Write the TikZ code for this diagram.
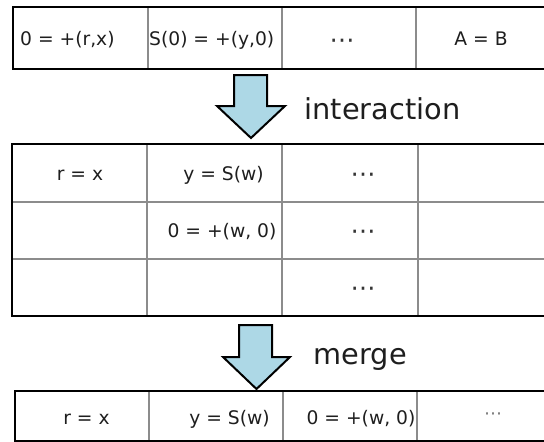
\documentclass[tikz,border=0pt]{standalone}
\usepackage{fontspec}
\setmainfont{DejaVu Sans}
\definecolor{gridgray}{RGB}{140,140,140}
\definecolor{txt}{RGB}{30,30,30}
\definecolor{arrowblue}{RGB}{173,216,230}
\begin{document}
\begin{tikzpicture}[x=1pt,y=-1pt,
  cell/.style={font=\fontsize{18.7}{22}\selectfont, inner sep=0pt, anchor=base, text=txt},
  dots/.style={font=\fontsize{25}{28}\selectfont, inner sep=0pt, anchor=base, text=txt!90},
  smalldots/.style={font=\fontsize{18}{20}\selectfont, inner sep=0pt, anchor=base, text=txt!60},
  lbl/.style={font=\fontsize{28.8}{34}\selectfont, inner sep=0pt, anchor=base west, text=txt},
  gridline/.style={draw=gridgray, line width=2pt},
  border/.style={draw=black, line width=2.2pt},
  bigarrow/.style={draw=black, line width=2pt, fill=arrowblue, line join=miter}]
\useasboundingbox (0,0) rectangle (544,442);
\clip (0,0) rectangle (544,442);

% ---------- top table ----------
\foreach \x in {147.7,282,416} \draw[gridline] (\x,7.3) -- (\x,69);
\draw[border] (560,7.3) -- (12.7,7.3) -- (12.7,69) -- (560,69);
\node[cell,anchor=base west] (t1) at (20,45) {0 = +(r,x)};
\node[cell,anchor=base west] (t2) at (149,45) {S(0) = +(y,0)};
\node[dots] (t3) at (342,48) {⋯};
\node[cell] (t4) at (481,45) {A = B};

% ---------- arrow 1 ----------
\draw[bigarrow] (234,75) -- (267,75) -- (267,106) -- (285,106) -- (251,138)
  -- (217,106) -- (234,106) -- cycle;
\node[lbl] (interaction) at (304.5,119.5) {interaction};

% ---------- middle table ----------
\foreach \y in {202,259} \draw[gridline] (11.7,\y) -- (560,\y);
\foreach \x in {146.7,282,418} \draw[gridline] (\x,144) -- (\x,316);
\draw[border] (560,144) -- (11.7,144) -- (11.7,316) -- (560,316);
\node[cell] (m11) at (80,180.5) {r = x};
\node[cell] (m12) at (223.5,180.5) {y = S(w)};
\node[dots] (m13) at (363,182) {⋯};
\node[cell] (m22) at (222,237.5) {0 = +(w, 0)};
\node[dots] (m23) at (363,239.5) {⋯};
\node[dots] (m33) at (363,296.5) {⋯};

% ---------- arrow 2 ----------
\draw[bigarrow] (239,325) -- (272,325) -- (272,357) -- (290,357) -- (256.5,389)
  -- (223,357) -- (239,357) -- cycle;
\node[lbl] (merge) at (313.5,364) {merge};

% ---------- bottom table ----------
\foreach \x in {149,283,417} \draw[gridline] (\x,391) -- (\x,441);
\draw[border] (560,391) -- (15,391) -- (15,441) -- (560,441);
\node[cell] (b1) at (86.5,424) {r = x};
\node[cell] (b2) at (229.5,424) {y = S(w)};
\node[cell] (b3) at (361,424) {0 = +(w, 0)};
\node[smalldots] (b4) at (493,419) {⋯};
\end{tikzpicture}
\end{document}
